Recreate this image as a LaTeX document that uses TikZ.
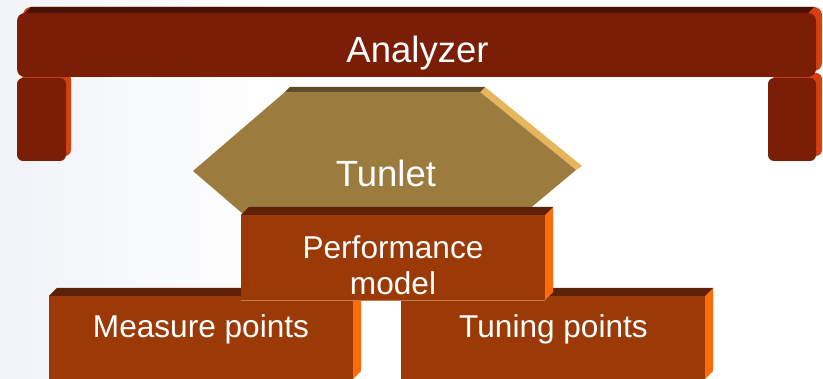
\documentclass[tikz,border=0pt]{standalone}
\usepackage{fontspec}
\setmainfont{Liberation Sans}
\definecolor{barfront}{HTML}{7B1E08}
\definecolor{bartop}{HTML}{4A1207}
\definecolor{barside}{HTML}{D4400F}
\definecolor{tunfront}{HTML}{9C7B3F}
\definecolor{tuntop}{HTML}{5E4A26}
\definecolor{tunedge}{HTML}{E6B55C}
\definecolor{boxfront}{HTML}{9B3A06}
\definecolor{boxtop}{HTML}{5C2107}
\definecolor{boxside}{HTML}{FF6C0C}
\definecolor{boxseam}{HTML}{C27B55}
\definecolor{haze}{HTML}{F1F3F8}

% an extruded brick: front face from (#1,#2) to (#3,#4), depth 8 up and right
\newcommand\drawbrick[4]{%
  \fill[boxside] (#3,#2) -- (#3+8,#2-8) -- (#3+8,#4-8) -- (#3,#4) -- cycle;
  \fill[boxtop] (#1,#2) -- (#1+8,#2-8) -- (#3+8,#2-8) -- (#3,#2) -- cycle;
  \fill[boxfront] (#1,#2) rectangle (#3,#4);}

\begin{document}
\begin{tikzpicture}[x=1pt,y=-1pt,
  lbl/.style={text=white,inner sep=0pt,anchor=base,
    font=\fontsize{31.6}{36}\selectfont},
  biglbl/.style={lbl,font=\fontsize{36.5}{40}\selectfont}]
\useasboundingbox (0,0) rectangle (823,379);
\fill[white] (0,0) rectangle (823,379);
\shade[left color=haze,right color=white] (0,0) rectangle (280,379);

% legs of the analyzer frame
\fill[barside,rounded corners=6] (22,73) rectangle (71,156);
\fill[barfront,rounded corners=6] (17,78) rectangle (66,161);
\fill[barside,rounded corners=6] (773,73) rectangle (822,156);
\fill[barfront,rounded corners=6] (768,78) rectangle (816,161);

% analyzer bar
\fill[barside,rounded corners=8] (23,7) rectangle (822,71);
\fill[bartop] (25,13) -- (31,7) -- (814,7) -- (808,13) -- cycle;
\fill[barfront,rounded corners=8] (17,13) rectangle (816,77);
\node[biglbl] (analyzer) at (417.5,62.3) {Analyzer};

% tunlet hexagon
\fill[tunedge] (480,92) -- (485,87) -- (582,166) -- (576,170) -- cycle;
\fill[tuntop] (285,92) -- (290,87) -- (485,87) -- (480,92) -- cycle;
\fill[tunfront] (285,92) -- (480,92) -- (576,170) -- (480,250)
  -- (285,250) -- (193,171) -- cycle;
\node[biglbl] (tunlet) at (386,186.7) {Tunlet};

% bottom row of bricks
\drawbrick{49}{296}{353}{379}
\drawbrick{401}{296}{705}{379}
\node[lbl] (measure) at (201,337.3) {Measure points};
\node[lbl] (tuning) at (553.5,337.3) {Tuning points};

% performance model brick on top
\drawbrick{241}{215}{545}{300}
\draw[boxseam,line width=0.6pt] (241,300) -- (545,300);
\node[lbl] (perf) at (393,258.3) {Performance};
\node[lbl] (model) at (393,295) {model};
\end{tikzpicture}
\end{document}
